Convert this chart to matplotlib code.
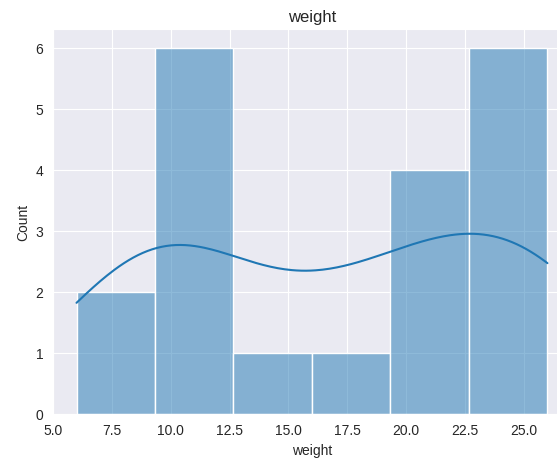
import matplotlib
matplotlib.use("Agg")
import matplotlib.pyplot as plt
import seaborn as sns

# sample weights
weights = [6.0, 8.5, 9.4, 9.4, 9.4, 9.5, 11.6, 11.7, 15.5, 17.4,
           19.4, 19.4, 19.5, 22.5, 23.1, 24.7, 24.9, 25.9, 25.9, 26.0]

sns.set_style("darkgrid")
plt.rcParams["font.family"] = ["Liberation Sans", "DejaVu Sans"]

fig = plt.figure(figsize=(5.57, 4.60), dpi=100)
# axes runs past the right edge of the figure
ax = fig.add_axes([0.0951, 0.0989, 0.930, 0.8354])

sns.histplot(x=weights, kde=True, ax=ax)
ax.set_title("weight")
ax.set_xlabel("weight")
ax.set_ylabel("Count")

fig.savefig("out.png", dpi=100)
